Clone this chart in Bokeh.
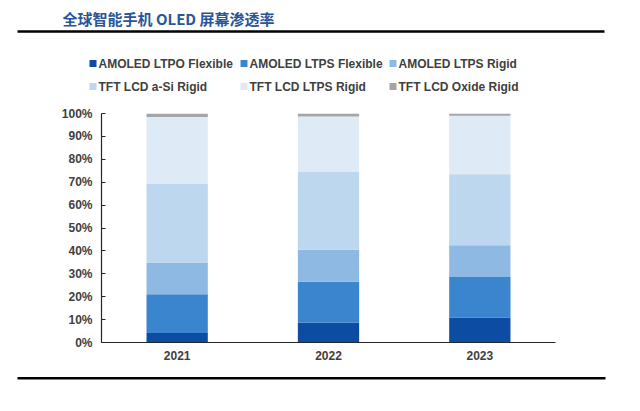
from bokeh.plotting import figure
from bokeh.layouts import column
from bokeh.models import ColumnDataSource, Range1d, FixedTicker, PrintfTickFormatter
from bokeh.core.properties import value
from bokeh.embed import file_html
from bokeh.resources import INLINE

# ---------------- data ----------------
title_text = "全球智能手机 OLED 屏幕渗透率"
years = ["2021", "2022", "2023"]
series = ["AMOLED LTPO Flexible", "AMOLED LTPS Flexible", "AMOLED LTPS Rigid",
          "TFT LCD a-Si Rigid", "TFT LCD LTPS Rigid", "TFT LCD Oxide Rigid"]
amoled_ltpo_flexible = [4.1, 8.7, 10.9]
amoled_ltps_flexible = [17.0, 17.8, 17.7]
amoled_ltps_rigid = [13.8, 14.0, 13.9]
tft_lcd_asi_rigid = [34.3, 33.9, 31.0]
tft_lcd_ltps_rigid = [29.3, 24.3, 25.5]
tft_lcd_oxide_rigid = [1.5, 1.3, 1.0]
y_ticks = [0, 10, 20, 30, 40, 50, 60, 70, 80, 90, 100]

colors = ["#0D4CA3", "#3A85CE", "#8EB9E2", "#BDD7EE", "#DEEAF6", "#A5A5A5"]

FONT = "Liberation Sans"
TXT = "#404040"
W = 640

# ---------------- header: title, rule, legend ----------------
HH = 100
hdr = figure(width=W, height=HH, x_range=Range1d(0, W), y_range=Range1d(HH, 0),
             toolbar_location=None, output_backend="svg", min_border=0,
             x_axis_location=None, y_axis_location=None, outline_line_color=None)
hdr.frame_align = False
hdr.grid.visible = False
hdr.text(x=[62], y=[18], text=[title_text], text_baseline="middle", text_align="left",
         text_font=value("Noto Sans CJK SC"), text_font_style="bold",
         text_font_size="15px", text_color="#2B5597")
hdr.segment(x0=[17], y0=[31], x1=[604], y1=[31], line_color="black", line_width=2.5)

col_x = [89, 240, 389]
row_y = [63, 86]
n = len(series)
sq_x = [col_x[i % 3] + 3.5 for i in range(n)]
sq_y = [row_y[i // 3] for i in range(n)]
tx_x = [col_x[i % 3] + 9 for i in range(n)]
hdr.rect(x=sq_x, y=sq_y, width=7, height=7, fill_color=colors, line_color=None)
hdr.text(x=tx_x, y=sq_y, text=series, text_baseline="middle", text_align="left",
         text_font=value(FONT), text_font_style="bold", text_font_size="12px",
         text_color=TXT)

# ---------------- main chart ----------------
MH = 266
data = dict(x=[i + 0.5 for i in range(len(years))], year=years)
vals = [amoled_ltpo_flexible, amoled_ltps_flexible, amoled_ltps_rigid,
        tft_lcd_asi_rigid, tft_lcd_ltps_rigid, tft_lcd_oxide_rigid]
for name, v in zip(series, vals):
    data[name] = v
src = ColumnDataSource(data)

p = figure(width=W, height=MH, x_range=Range1d(0, len(years)), y_range=Range1d(0, 100),
           toolbar_location=None, output_backend="svg",
           min_border_left=101, min_border_right=85, min_border_top=13, min_border_bottom=24,
           outline_line_color=None)
p.frame_align = False
p.grid.visible = False
p.vbar_stack(series, x="x", width=0.405, color=colors, line_color=None, source=src)

xt = FixedTicker(ticks=[i + 0.5 for i in range(len(years))],
                 minor_ticks=list(range(len(years) + 1)))
p.xaxis.ticker = xt
p.xaxis.major_label_overrides = {i + 0.5: y for i, y in enumerate(years)}
p.xaxis.major_tick_in = 0
p.xaxis.major_tick_out = 0
p.xaxis.minor_tick_in = 4
p.xaxis.minor_tick_out = 0
p.xaxis.major_label_standoff = 8

p.yaxis.ticker = FixedTicker(ticks=y_ticks)
p.yaxis.formatter = PrintfTickFormatter(format="%d%%")
p.yaxis.major_tick_in = 4
p.yaxis.major_tick_out = 0
p.yaxis.minor_tick_line_color = None
p.yaxis.major_label_standoff = 9

for ax in (p.xaxis, p.yaxis):
    ax.axis_line_color = "#262626"
    ax.axis_line_width = 1.2
    ax.major_tick_line_color = "#262626"
    ax.minor_tick_line_color = "#262626" if ax is p.xaxis else None
    ax.major_label_text_font = FONT
    ax.major_label_text_font_style = "bold"
    ax.major_label_text_font_size = "12px"
    ax.major_label_text_color = TXT

# ---------------- footer rule ----------------
FH = 45
ftr = figure(width=W, height=FH, x_range=Range1d(0, W), y_range=Range1d(FH, 0),
             toolbar_location=None, output_backend="svg", min_border=0,
             x_axis_location=None, y_axis_location=None, outline_line_color=None)
ftr.frame_align = False
ftr.grid.visible = False
ftr.segment(x0=[17], y0=[11.7], x1=[605], y1=[11.7], line_color="black", line_width=2.5)

layout = column(hdr, p, ftr, spacing=0)
open("out.html", "w").write(file_html(layout, INLINE))
